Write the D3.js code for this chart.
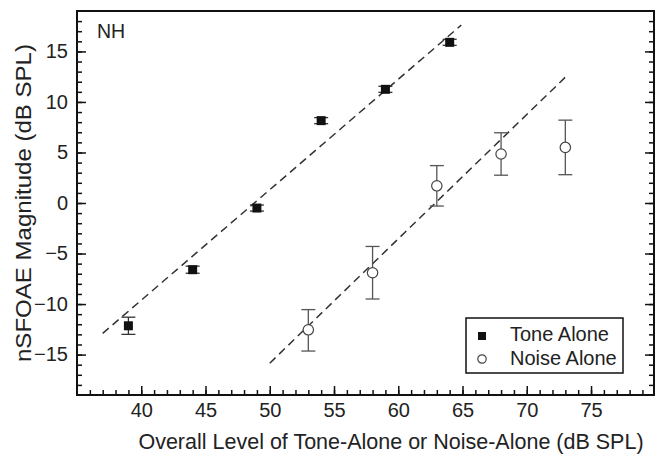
<!DOCTYPE html>
<html>
<head>
<meta charset="utf-8">
<script src="https://cdn.jsdelivr.net/npm/d3@7"></script>
<style>
  body { margin: 0; background: #fff; }
  text { font-family: "Liberation Sans", Arial, sans-serif; fill: #222; }
</style>
</head>
<body>
<svg id="chart" width="661" height="454"></svg>
<script>
// levels (dB SPL) and nSFOAE magnitudes
var toneX = [39, 44, 49, 54, 59, 64];
var toneY = [-12.15, -6.6, -0.5, 8.15, 11.25, 15.9];
var toneErr = [0.85, 0.35, 0.3, 0.3, 0.3, 0.3];

var noiseX = [53, 58, 63, 68, 73];
var noiseY = [-12.55, -6.9, 1.7, 4.85, 5.5];
var noiseErrHi = [2.0, 2.6, 2.0, 2.1, 2.7];
var noiseErrLo = [2.1, 2.6, 2.0, 2.1, 2.7];

// dashed regression lines (end points)
var toneFitX = [37, 64.9];
var toneFitY = [-12.9, 17.6];
var noiseFitX = [50, 73];
var noiseFitY = [-15.85, 12.45];

var xTicks = [40, 45, 50, 55, 60, 65, 70, 75];
var yTicks = [-15, -10, -5, 0, 5, 10, 15];

var margin = {left: 77, right: 7, top: 11, bottom: 59};
var svg = d3.select("#chart");
var width = 661 - margin.left - margin.right;
var height = 454 - margin.top - margin.bottom;

var g = svg.append("g")
  .attr("transform", "translate(" + margin.left + "," + margin.top + ")");

// scales
var x = d3.scaleLinear().domain([35, 79.9]).range([0, width]);
var y = d3.scaleLinear().domain([-19, 19]).range([height, 0]);

var minorX = d3.range(36, 80, 1);
var minorY = d3.range(-18, 19, 1);

function styleAxis(sel) {
  sel.select(".domain").remove();
  sel.selectAll(".tick line").attr("stroke", "#111").attr("stroke-width", 1.5);
  sel.selectAll(".tick text").attr("font-size", 20).attr("fill", "#222");
}

// minor ticks
g.append("g").attr("transform", "translate(0," + height + ")")
  .call(d3.axisBottom(x).tickValues(minorX).tickSize(-5).tickFormat(""))
  .call(styleAxis);
g.append("g")
  .call(d3.axisLeft(y).tickValues(minorY).tickSize(-5).tickFormat(""))
  .call(styleAxis);
g.append("g").attr("transform", "translate(" + width + ",0)")
  .call(d3.axisRight(y).tickValues(minorY).tickSize(-5).tickFormat(""))
  .call(styleAxis);

// major ticks
g.append("g").attr("transform", "translate(0," + height + ")")
  .call(d3.axisBottom(x).tickValues(xTicks).tickSize(-9).tickPadding(8))
  .call(styleAxis);
g.append("g")
  .call(d3.axisLeft(y).tickValues(yTicks).tickSize(-9).tickPadding(9)
    .tickFormat(function(d) { return d < 0 ? "\u2212" + Math.abs(d) : d; }))
  .call(styleAxis);
g.append("g").attr("transform", "translate(" + width + ",0)")
  .call(d3.axisRight(y).tickValues(yTicks).tickSize(-9).tickFormat(""))
  .call(styleAxis);

// frame
g.append("rect")
  .attr("width", width)
  .attr("height", height)
  .attr("fill", "none")
  .attr("stroke", "#111")
  .attr("stroke-width", 2);

// fit lines
var line = d3.line()
  .x(function(d) { return x(d[0]); })
  .y(function(d) { return y(d[1]); });

g.append("path")
  .datum(d3.zip(toneFitX, toneFitY))
  .attr("d", line)
  .attr("fill", "none")
  .attr("stroke", "#333")
  .attr("stroke-width", 1.5)
  .attr("stroke-dasharray", "8,5");

g.append("path")
  .datum(d3.zip(noiseFitX, noiseFitY))
  .attr("d", line)
  .attr("fill", "none")
  .attr("stroke", "#333")
  .attr("stroke-width", 1.5)
  .attr("stroke-dasharray", "8,5");

// error bar helper
function errorBars(cls, data, color) {
  var eb = g.selectAll("." + cls).data(data).enter().append("g").attr("class", cls)
    .attr("stroke", color).attr("stroke-width", 1.3);
  eb.append("line")
    .attr("x1", function(d) { return x(d.x); })
    .attr("x2", function(d) { return x(d.x); })
    .attr("y1", function(d) { return y(d.hi); })
    .attr("y2", function(d) { return y(d.lo); });
  eb.append("line")
    .attr("x1", function(d) { return x(d.x) - 7; })
    .attr("x2", function(d) { return x(d.x) + 7; })
    .attr("y1", function(d) { return y(d.hi); })
    .attr("y2", function(d) { return y(d.hi); });
  eb.append("line")
    .attr("x1", function(d) { return x(d.x) - 7; })
    .attr("x2", function(d) { return x(d.x) + 7; })
    .attr("y1", function(d) { return y(d.lo); })
    .attr("y2", function(d) { return y(d.lo); });
}

// noise alone: open circles
var noise = noiseX.map(function(d, i) {
  return {x: d, y: noiseY[i], hi: noiseY[i] + noiseErrHi[i], lo: noiseY[i] - noiseErrLo[i]};
});
errorBars("nerr", noise, "#555");

g.selectAll(".circ").data(noise).enter().append("circle")
  .attr("class", "circ")
  .attr("cx", function(d) { return x(d.x); })
  .attr("cy", function(d) { return y(d.y); })
  .attr("r", 5.2)
  .attr("fill", "#fff")
  .attr("stroke", "#444")
  .attr("stroke-width", 1.2);

// tone alone: filled squares
var tone = toneX.map(function(d, i) {
  return {x: d, y: toneY[i], hi: toneY[i] + toneErr[i], lo: toneY[i] - toneErr[i]};
});
errorBars("terr", tone, "#333");

g.selectAll(".sq").data(tone).enter().append("rect")
  .attr("class", "sq")
  .attr("x", function(d) { return x(d.x) - 4.5; })
  .attr("y", function(d) { return y(d.y) - 4.5; })
  .attr("width", 9)
  .attr("height", 9)
  .attr("fill", "#111");

// panel label
g.append("text")
  .attr("x", 20)
  .attr("y", 27)
  .attr("font-size", 19.5)
  .text("NH");

// legend
var lg = g.append("g").attr("transform", "translate(" + (466 - margin.left) + "," + (318 - margin.top) + ")");
lg.append("rect")
  .attr("width", 157)
  .attr("height", 55)
  .attr("fill", "#fff")
  .attr("stroke", "#111")
  .attr("stroke-width", 1.5);
lg.append("rect")
  .attr("x", 12).attr("y", 14).attr("width", 8).attr("height", 8)
  .attr("fill", "#111");
lg.append("circle")
  .attr("cx", 16).attr("cy", 41).attr("r", 4.2)
  .attr("fill", "#fff").attr("stroke", "#444").attr("stroke-width", 1.2);
lg.append("text").attr("x", 44).attr("y", 23).attr("font-size", 20).text("Tone Alone");
lg.append("text").attr("x", 44).attr("y", 47).attr("font-size", 20).text("Noise Alone");

// axis titles
svg.append("text")
  .attr("x", 391)
  .attr("y", 449)
  .attr("text-anchor", "middle")
  .attr("font-size", 21.5)
  .text("Overall Level of Tone-Alone or Noise-Alone (dB SPL)");

svg.append("text")
  .attr("transform", "translate(31," + (margin.top + height / 2) + ") rotate(-90)")
  .attr("text-anchor", "middle")
  .attr("font-size", 22)
  .attr("textLength", 318)
  .attr("lengthAdjust", "spacingAndGlyphs")
  .text("nSFOAE Magnitude (dB SPL)");
</script>
</body>
</html>
